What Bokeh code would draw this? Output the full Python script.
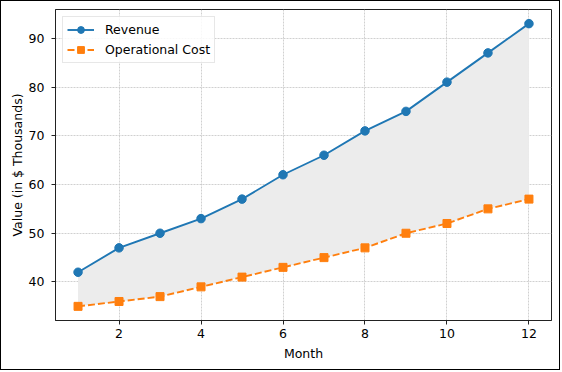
from bokeh.plotting import figure
from bokeh.models import Range1d, FixedTicker
from bokeh.embed import file_html
from bokeh.resources import INLINE

months = [1, 2, 3, 4, 5, 6, 7, 8, 9, 10, 11, 12]
revenue = [42, 47, 50, 53, 57, 62, 66, 71, 75, 81, 87, 93]
op_cost = [35, 36, 37, 39, 41, 43, 45, 47, 50, 52, 55, 57]
x_ticks = [2, 4, 6, 8, 10, 12]
y_ticks = [40, 50, 60, 70, 80, 90]

FONT = "DejaVu Sans"
FS = "12.5px"

p = figure(width=560, height=370,
           x_range=Range1d(0.45, 12.55), y_range=Range1d(32.1, 95.9),
           output_backend="svg", toolbar_location=None,
           min_border_left=54, min_border_right=10,
           min_border_top=8, min_border_bottom=51)
p.styles = {"border": "1px solid black"}

p.background_fill_color = "white"
p.border_fill_color = "white"
p.outline_line_color = "#222222"
p.outline_line_width = 1

# shaded area between the series
p.varea(x=months, y1=op_cost, y2=revenue, fill_color="#ececec", fill_alpha=1.0)

# revenue
p.line(months, revenue, line_color="#1f77b4", line_width=1.9, legend_label="Revenue")
p.scatter(months, revenue, marker="circle", size=8.5, fill_color="#1f77b4",
          line_color="#1f77b4", legend_label="Revenue")

# operational cost
p.line(months, op_cost, line_color="#ff7f0e", line_width=1.9, line_dash="7 3",
       legend_label="Operational Cost")
p.scatter(months, op_cost, marker="square", size=8, fill_color="#ff7f0e",
          line_color="#ff7f0e", legend_label="Operational Cost")

# axes
for ax in (p.xaxis, p.yaxis):
    ax.axis_line_color = "#222222"
    ax.major_tick_line_color = "#222222"
    ax.major_tick_out = 4
    ax.major_tick_in = 0
    ax.minor_tick_line_color = None
    ax.major_label_text_font = FONT
    ax.major_label_text_font_size = FS
    ax.major_label_text_color = "black"
    ax.axis_label_text_font = FONT
    ax.axis_label_text_font_size = FS
    ax.axis_label_text_font_style = "normal"
    ax.axis_label_text_color = "black"

p.xaxis.ticker = FixedTicker(ticks=x_ticks)
p.yaxis.ticker = FixedTicker(ticks=y_ticks)
p.xaxis.axis_label = "Month"
p.yaxis.axis_label = "Value (in $ Thousands)"
p.xaxis.major_label_standoff = 4
p.xaxis.axis_label_standoff = 5
p.yaxis.major_label_standoff = 7
p.yaxis.axis_label_standoff = 1

# grid
p.xgrid.ticker = FixedTicker(ticks=x_ticks)
p.ygrid.ticker = FixedTicker(ticks=y_ticks)
for g in (p.xgrid, p.ygrid):
    g.grid_line_color = "#c4c4c4"
    g.grid_line_width = 0.8
    g.grid_line_dash = "2 1"
    g.grid_line_alpha = 1.0

# legend
lg = p.legend[0]
lg.location = "top_left"
lg.margin = 7
lg.padding = 4
lg.spacing = 3
lg.glyph_width = 27
lg.glyph_height = 17
lg.label_height = 17
lg.label_standoff = 11
lg.label_text_font = FONT
lg.label_text_font_size = FS
lg.label_text_color = "black"
lg.border_line_color = "#d0d0d0"
lg.border_line_width = 1
lg.background_fill_color = "white"
lg.background_fill_alpha = 0.85

open("out.html", "w").write(file_html(p, INLINE))
